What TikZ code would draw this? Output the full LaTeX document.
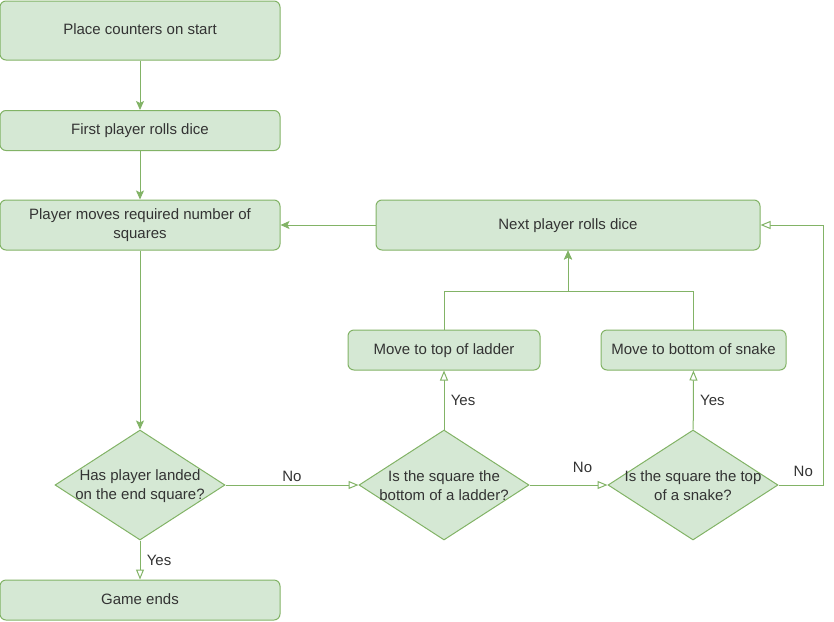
\documentclass[tikz,border=0pt]{standalone}
\usepackage{fontspec}
\setmainfont{Liberation Sans}
\definecolor{sgreen}{HTML}{82B366}
\definecolor{sfill}{HTML}{D5E8D4}
\definecolor{stext}{HTML}{333333}
\usetikzlibrary{shapes.geometric,arrows.meta,positioning,calc}

\begin{document}
\begin{tikzpicture}[x=1pt, y=-1pt,
  every node/.style={font=\fontsize{15}{19}\selectfont, text=stext},
  stepbox/.style={rounded corners=6pt, draw=sgreen, fill=sfill, line width=1pt,
    align=center, minimum width=280pt, minimum height=40pt, text depth=2pt},
  decision/.style={diamond, draw=sgreen, fill=sfill, line width=1pt,
    minimum width=170pt, minimum height=110pt, inner sep=0pt},
  flow/.style={-{Stealth[length=9pt, width=8pt, inset=2pt]}, sgreen, line width=1pt},
  flowopen/.style={-{Triangle[open, length=10pt, width=8pt, fill=white]}, sgreen, line width=1pt}
]
  \useasboundingbox (0,0) rectangle (834,621);

  % Left column
  \node[stepbox, minimum height=59pt] (start) at (140,30.5) {Place counters on start};
  \node[stepbox] (first) at (140,130.5) {First player rolls dice};
  \node[stepbox, minimum height=50pt] (moves) at (140,225) {Player moves required number of\\squares};
  \node[decision, label={[align=center, yshift=-1pt]center:{Has player landed\\on the end square?}}] (isend) at (140,485) {};
  \node[stepbox] (ends) at (140,600) {Game ends};

  % Right part
  \node[stepbox, minimum width=384pt, minimum height=50pt] (next) at (568,225) {Next player rolls dice};
  \node[stepbox, minimum width=192pt] (ladder) at (444,350) {Move to top of ladder};
  \node[stepbox, minimum width=185pt] (snake) at (693.5,350) {Move to bottom of snake};
  \node[decision, label={[align=center, yshift=-1pt]center:{Is the square the\\bottom of a ladder?}}] (isladder) at (444,485) {};
  \node[decision, label={[align=center, yshift=-1pt]center:{Is the square the top\\of a snake?}}] (issnake) at (693,485) {};
  \coordinate (join) at (568,291);

  % Arrows
  \draw[flow] (start) -- (first);
  \draw[flow] (first) -- (moves);
  \draw[flow] (moves) -- (isend);
  \draw[flow] (next) -- (moves);
  \draw[flowopen] (isend) -- node[right=3pt] {Yes} (ends);
  \draw[flowopen] (isend) -- node[above] {No} (isladder);
  \draw[flowopen] (isladder) -- node[right=3pt] {Yes} (ladder);
  \draw[flowopen] (isladder) -- node[pos=0.68, above=9pt] {No} (issnake);
  \draw[flowopen] (issnake) -- node[right=3pt] {Yes} (snake);
  \draw[flowopen] (issnake.east) -- node[pos=0.55, above=5pt] {No} ++(45,0) |- (next.east);
  \draw[flow] (ladder.north) |- (join) -- (next.south);
  \draw[flow] (snake.north) |- (join) -- (next.south);
\end{tikzpicture}
\end{document}
